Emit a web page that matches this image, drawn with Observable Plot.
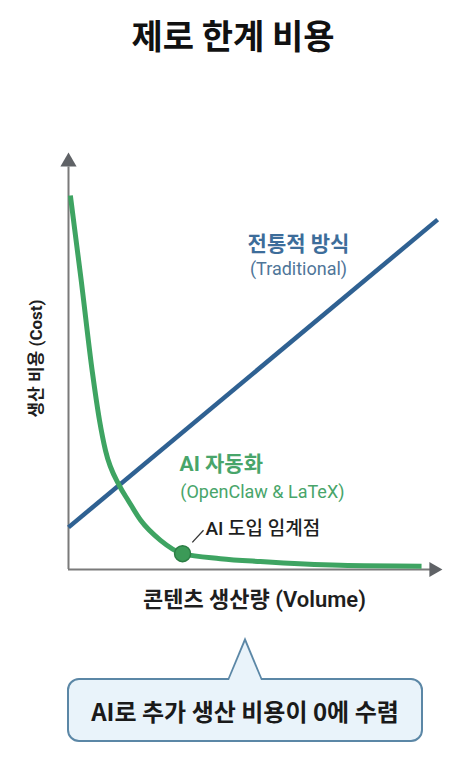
<!DOCTYPE html>
<html>
<head>
<meta charset="utf-8">
<script src="https://cdn.jsdelivr.net/npm/d3@7"></script>
<script src="https://cdn.jsdelivr.net/npm/@observablehq/plot@0.6"></script>
<style>
  html, body { margin: 0; padding: 0; background: #fff; }
  #wrap { position: relative; width: 466px; height: 762px; font-family: "Noto Sans CJK KR", sans-serif; overflow: hidden; }
  #title { position: absolute; left: 0; top: 16px; width: 466px; height: 38px; line-height: 38px; text-align: center;
           font-size: 34px; font-weight: 700; color: #111; }
  #chart { position: absolute; left: 0; top: 90px; }
  #callout { position: absolute; left: 67px; top: 678px; width: 352px; height: 60px; box-sizing: content-box;
             border: 2px solid #5b87a6; border-radius: 12px; background: #e9f3fa;
             display: flex; align-items: center; justify-content: center;
             font-size: 24px; font-weight: 700; color: #1a1a1a; }
  #callout::before { content: ""; position: absolute; left: 159px; top: -43px; width: 0; height: 0;
             border-left: 17.5px solid transparent; border-right: 17.5px solid transparent; border-bottom: 41px solid #5b87a6; }
  #callout::after { content: ""; position: absolute; left: 160.3px; top: -38px; width: 0; height: 0;
             border-left: 16.2px solid transparent; border-right: 16.2px solid transparent; border-bottom: 38px solid #e9f3fa; }
</style>
</head>
<body>
<div id="wrap">
  <div id="title">제로 한계 비용</div>
  <div id="chart"></div>
  <div id="callout">AI로 추가 생산 비용이 0에 수렴</div>
</div>
<script>
// ---- data (volume 0–100, cost 0–100) ----
const aiVolume = [0.5, 3.4, 6.4, 8.3, 9.9, 13.6, 16.0, 19.3, 24.6, 30.5, 40.6, 51.3, 72.7, 94.4];
const aiCost   = [89.7, 69.3, 47.2, 35.7, 28.5, 20.1, 16.5, 11.8, 7.0, 3.8, 2.6, 1.9, 1.0, 0.8];
const tradVolume = [0, 98.7];
const tradCost   = [10.1, 83.9];
const thresholdVolume = [30.5];
const thresholdCost   = [3.8];
const leaderVolume = [33.1, 36.1];
const leaderCost   = [6.5, 9.4];

const seriesLabels = [
  {text: "전통적 방식",          x: 61.5, y: 77.9, anchor: "middle", kind: "tradTitle"},
  {text: "(Traditional)",       x: 61.5, y: 71.9, anchor: "middle", kind: "tradSub"},
  {text: "AI 자동화",            x: 29.7, y: 25.2, anchor: "start",  kind: "aiTitle"},
  {text: "(OpenClaw & LaTeX)",  x: 29.9, y: 18.5, anchor: "start",  kind: "aiSub"},
  {text: "AI 도입 임계점",        x: 36.6, y: 9.8,  anchor: "start",  kind: "point"}
];
const xAxisLabel = {text: "콘텐츠 생산량 (Volume)", x: 49.7};
const yAxisLabel = {text: "생산 비용 (Cost)", x: -8.6, y: 50.6};
const axisEnd = 100;

// ---- build tables ----
const ai = aiVolume.map((v, i) => ({volume: v, cost: aiCost[i]}));
const trad = tradVolume.map((v, i) => ({volume: v, cost: tradCost[i]}));
const threshold = thresholdVolume.map((v, i) => ({volume: v, cost: thresholdCost[i]}));
const leader = [{x1: leaderVolume[0], y1: leaderCost[0], x2: leaderVolume[1], y2: leaderCost[1]}];

const GREEN = "#3ea462", GREEN_TXT = "#48a56a", BLUE = "#2f6192", BLUE_TXT = "#3d6d9a", BLUE_SUB = "#4f7699";
const AXIS = "#7a7a7a", HEAD = "#5f6266";
const FONT = "Roboto, 'Noto Sans CJK KR', sans-serif";

const styleOf = {
  tradTitle: {fill: BLUE_TXT, size: 21, weight: 700},
  tradSub:   {fill: BLUE_SUB, size: 18, weight: 400},
  aiTitle:   {fill: GREEN_TXT, size: 21, weight: 700},
  aiSub:     {fill: GREEN_TXT, size: 18, weight: 400},
  point:     {fill: "#1e1e1e", size: 19, weight: 500}
};

const labelMarks = seriesLabels.map(d => Plot.text([d], {
  x: "x", y: "y", text: "text", textAnchor: d.anchor,
  fill: styleOf[d.kind].fill, fontSize: styleOf[d.kind].size, fontWeight: styleOf[d.kind].weight,
  fontFamily: FONT
}));

const plot = Plot.plot({
  width: 466, height: 530,
  marginTop: 62, marginBottom: 51, marginLeft: 68, marginRight: 24,
  x: {domain: [0, axisEnd], axis: null},
  y: {domain: [0, axisEnd], axis: null},
  style: {fontFamily: FONT, background: "transparent", overflow: "visible"},
  marks: [
    // axes
    Plot.ruleY([0], {x1: 0, x2: axisEnd - 3.2, stroke: AXIS, strokeWidth: 2}),
    Plot.ruleX([0], {y1: 0, y2: axisEnd - 3.5, stroke: AXIS, strokeWidth: 2}),
    Plot.dot([{x: axisEnd, y: 0}], {x: "x", y: "y", symbol: "triangle", rotate: 90, r: 5.6, fill: HEAD, stroke: "none", dx: -8.8}),
    Plot.dot([{x: 0, y: axisEnd}], {x: "x", y: "y", symbol: "triangle", r: 6, fill: HEAD, stroke: "none", dy: 9.4}),
    // series
    Plot.line(trad, {x: "volume", y: "cost", stroke: BLUE, strokeWidth: 4.5, strokeLinecap: "butt"}),
    Plot.line(ai, {x: "volume", y: "cost", stroke: GREEN, strokeWidth: 5, curve: "monotone-x", strokeLinecap: "butt"}),
    // threshold point & leader
    Plot.link(leader, {x1: "x1", y1: "y1", x2: "x2", y2: "y2", stroke: "#333", strokeWidth: 1.3}),
    Plot.dot(threshold, {x: "volume", y: "cost", r: 8, fill: "#3b9a57", stroke: "#2b7d44", strokeWidth: 1.5}),
    ...labelMarks,
    // axis labels
    Plot.text([xAxisLabel], {x: "x", text: "text", frameAnchor: "bottom", dy: 37,
      fontSize: 22, fontWeight: 600, fill: "#1e1e1e", fontFamily: FONT}),
    Plot.text([yAxisLabel], {x: "x", y: "y", text: "text", rotate: -90,
      fontSize: 17, fontWeight: 700, fill: "#1e1e1e", fontFamily: FONT})
  ]
});
document.getElementById("chart").appendChild(plot);
</script>
</body>
</html>
